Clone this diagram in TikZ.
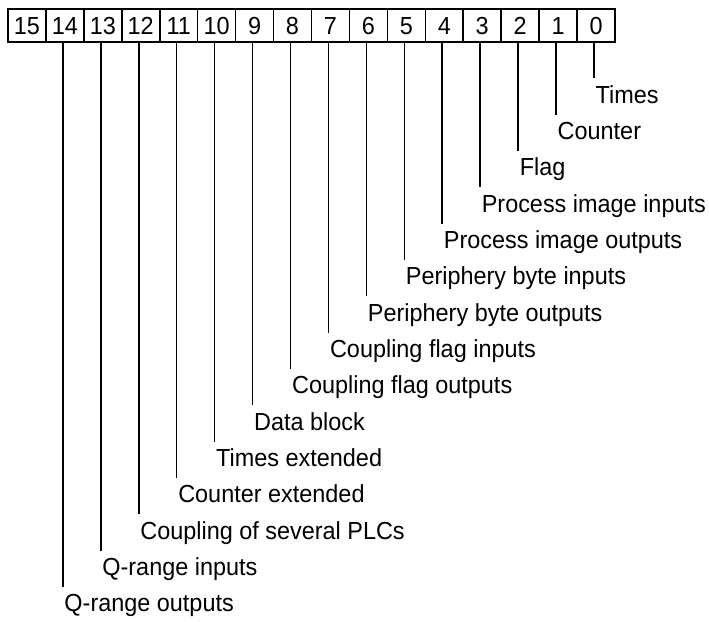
\documentclass[tikz,border=0pt]{standalone}
\usepackage{fontspec}
\setmainfont{Liberation Sans}
\newfontfamily\narrowfont[FakeStretch=0.95]{Liberation Sans}
\newcommand{\bitfont}{\narrowfont\fontsize{18.5pt}{22pt}\selectfont}
\begin{document}
\begin{tikzpicture}[x=0.75pt,y=-0.75pt,
  cell/.style={draw,line width=1.2pt,minimum width=28.46pt,minimum height=24.75pt,inner sep=0pt,
    text height=13.25pt,text depth=0pt,font=\bitfont},
  lbl/.style={anchor=north west,inner xsep=1pt,inner ysep=5.15pt,text height=13.25pt,text depth=3.5pt,font=\bitfont}]
\useasboundingbox (0,0) rectangle (709,621);
\foreach \i in {0,...,15}
  \node[cell] (b\i) at ({615-(\i+0.5)*37.94},25.5) {\i};
\foreach \i/\t in {0/Times,1/Counter,2/Flag,3/Process image inputs,
    4/Process image outputs,5/Periphery byte inputs,6/Periphery byte outputs,
    7/Coupling flag inputs,8/Coupling flag outputs,9/Data block,
    10/Times extended,11/Counter extended,12/Coupling of several PLCs,
    13/Q-range inputs,14/Q-range outputs}{
  \node[lbl] (l\i) at ({613-(\i+0.5)*37.94},{78.2+36.35*\i}) {\t};
  \draw[line width=1.2pt] (b\i.south -| l\i.north west) -- (l\i.north west);
}
\end{tikzpicture}
\end{document}
